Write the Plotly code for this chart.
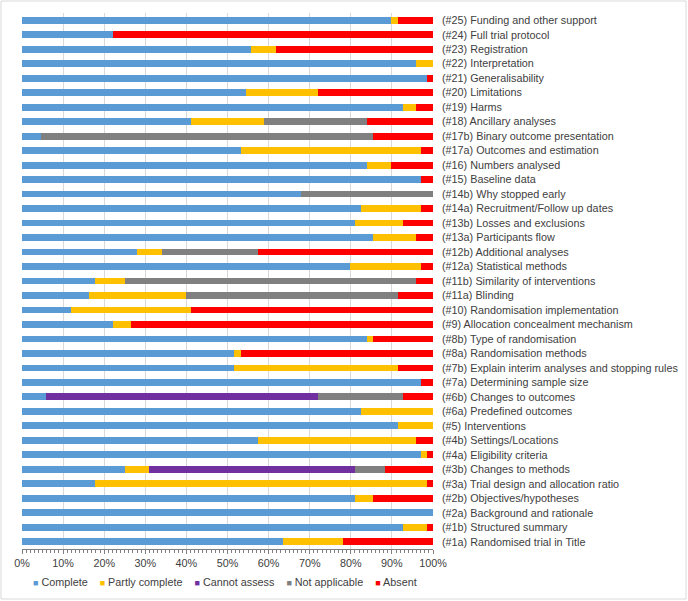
import plotly.graph_objects as go

categories = ["(#1a) Randomised trial in Title", "(#1b) Structured summary", "(#2a) Background and rationale",
              "(#2b) Objectives/hypotheses", "(#3a) Trial design and allocation ratio", "(#3b) Changes to methods",
              "(#4a) Eligibility criteria", "(#4b) Settings/Locations", "(#5) Interventions",
              "(#6a) Predefined outcomes", "(#6b) Changes to outcomes", "(#7a) Determining sample size",
              "(#7b) Explain interim analyses and stopping rules", "(#8a) Randomisation methods",
              "(#8b) Type of randomisation", "(#9) Allocation concealment mechanism",
              "(#10) Randomisation implementation", "(#11a) Blinding", "(#11b) Similarity of interventions",
              "(#12a) Statistical methods", "(#12b) Additional analyses", "(#13a) Participants flow",
              "(#13b) Losses and exclusions", "(#14a) Recruitment/Follow up dates", "(#14b) Why stopped early",
              "(#15) Baseline data", "(#16) Numbers analysed", "(#17a) Outcomes and estimation",
              "(#17b) Binary outcome presentation", "(#18) Ancillary analyses", "(#19) Harms",
              "(#20) Limitations", "(#21) Generalisability", "(#22) Interpretation", "(#23) Registration",
              "(#24) Full trial protocol", "(#25) Funding and other support"]

complete = [63.4, 92.8, 100.0, 81.1, 17.7, 25.0, 97.2, 57.5, 91.4, 82.5, 5.9, 97.2, 51.5, 51.5, 84.0, 22.2,
            11.8, 16.2, 17.7, 79.7, 28.1, 85.5, 81.1, 82.5, 67.8, 97.2, 84.0, 53.2, 4.5, 41.2, 92.8, 54.6,
            98.6, 95.9, 55.8, 22.2, 89.9]
partly = [14.6, 5.8, 0, 4.4, 80.9, 5.9, 1.4, 38.3, 8.6, 17.5, 0, 0, 39.9, 1.7, 1.5, 4.4,
          29.4, 23.8, 7.3, 17.5, 5.9, 10.4, 11.7, 14.7, 0, 0, 5.9, 44.0, 0, 17.8, 3.1, 17.5,
          0, 4.1, 6.0, 0, 1.5]
cannot = [0, 0, 0, 0, 0, 50.2, 0, 0, 0, 0, 66.2, 0, 0, 0, 0, 0,
          0, 0, 0, 0, 0, 0, 0, 0, 0, 0, 0, 0, 0, 0, 0, 0,
          0, 0, 0, 0, 0]
not_applicable = [0, 0, 0, 0, 0, 7.2, 0, 0, 0, 0, 20.7, 0, 0, 0, 0, 0,
                  0, 51.4, 70.8, 0, 23.5, 0, 0, 0, 32.2, 0, 0, 0, 81.0, 25.0, 0, 0,
                  0, 0, 0, 0, 0]
absent = [22.0, 1.4, 0, 14.5, 1.4, 11.7, 1.4, 4.2, 0, 0, 7.2, 2.8, 8.6, 46.8, 14.5, 73.4,
          58.8, 8.6, 4.2, 2.8, 42.5, 4.1, 7.2, 2.8, 0, 2.8, 10.1, 2.8, 14.5, 16.0, 4.1, 27.9,
          1.4, 0, 38.2, 77.8, 8.6]

series = [("Complete", complete, "#5B9BD5"),
          ("Partly complete", partly, "#FFC000"),
          ("Cannot assess", cannot, "#7030A0"),
          ("Not applicable", not_applicable, "#808080"),
          ("Absent", absent, "#FF0000")]

FONT = "Liberation Sans, Arial, sans-serif"
FS = 10.8

fig = go.Figure()
for name, vals, color in series:
    fig.add_trace(go.Bar(
        y=categories, x=[v / 100 for v in vals], name=name, orientation="h",
        marker=dict(color=color, line=dict(width=0)), showlegend=False,
    ))

legend_text = "    ".join(
    f'<span style="color:{color};font-size:9px">■</span> {name}' for name, _, color in series
)

fig.update_layout(
    width=688, height=601,
    barmode="stack", bargap=0.53,
    plot_bgcolor="white", paper_bgcolor="white",
    margin=dict(l=22, r=255, t=13, b=52),
    font=dict(family=FONT, size=FS, color="#404040"),
    showlegend=False,
    xaxis=dict(range=[0, 1], tickformat=".0%", dtick=0.1, tick0=0,
               showgrid=True, gridcolor="#D9D9D9", gridwidth=1,
               showline=True, linecolor="#808080", linewidth=1,
               ticks="outside", ticklen=4, tickcolor="#808080",
               minor=dict(dtick=0.01, ticks="outside", ticklen=3, tickcolor="#808080", showgrid=False),
               zeroline=False, fixedrange=True, automargin=False,
               tickfont=dict(size=FS, color="#404040")),
    yaxis=dict(side="right", showgrid=False, showline=False, ticks="",
               ticklabelstandoff=8, range=[-0.5, 36.5], automargin=False,
               tickfont=dict(size=FS, color="#404040")),
    annotations=[dict(text=legend_text, xref="paper", yref="paper", x=0.494, y=-0.0616,
                      xanchor="center", yanchor="middle", showarrow=False,
                      font=dict(family=FONT, size=FS, color="#404040"))],
    shapes=[dict(type="rect", xref="paper", yref="paper",
                 x0=(1 - 22) / 411, x1=(686 - 22) / 411,
                 y0=(549 - 599) / 536, y1=1 + (13 - 1) / 536,
                 line=dict(color="#D9D9D9", width=1))],
)

fig.write_html("out.html", config={"displayModeBar": False},
               post_script="document.body.style.margin='0';")
